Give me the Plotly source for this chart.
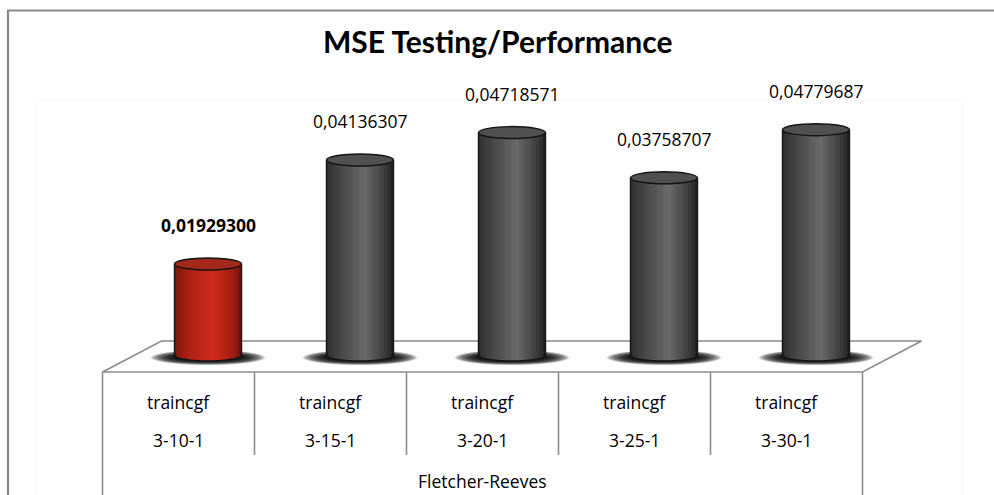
import numpy as np
import plotly.graph_objects as go

# ---------------- data ----------------
methods = ["traincgf", "traincgf", "traincgf", "traincgf", "traincgf"]
architectures = ["3-10-1", "3-15-1", "3-20-1", "3-25-1", "3-30-1"]
group_label = "Fletcher-Reeves"
mse_values = [0.01929300, 0.04136307, 0.04718571, 0.03758707, 0.04779687]
best_index = 0
title_text = "MSE Testing/Performance"

# ---------------- geometry (pixels) ----------------
W, H = 994, 495
X0PX, XSTEP = 208, 152      # pixel of first category centre, pixels per category
Y0PX, YSCALE = 355, 4714    # pixel of value 0, pixels per unit of value
DEPTH_X, DEPTH_Y = 59, 31   # 3-D floor depth offsets
FLOOR_FRONT_Y = 372
TABLE_DIV_END = 455
CYL_HALF_W = 33.5           # px
ELL_HALF_H = 6.0            # px

def xd(px):
    return (px - X0PX) / XSTEP

def yd(py):
    return (Y0PX - py) / YSCALE

def pxp(px):  # paper x
    return px / W

def pyp(py):  # paper y
    return 1 - py / H

hw = CYL_HALF_W / XSTEP
eb = ELL_HALF_H / YSCALE
n = len(mse_values)
cats = list(range(n))

font_main = "Open Sans, Lato, sans-serif"

# colour profiles across the cylinder (t from -1 left to +1 right)
tstops = [-1.0, -0.6, 0.15, 0.7, 1.0]
gray_stops = [(46, 46, 46), (70, 70, 70), (106, 106, 106), (64, 64, 64), (34, 34, 34)]
red_stops = [(125, 22, 12), (172, 32, 20), (208, 44, 30), (165, 30, 18), (108, 18, 10)]

def shade(stops, t):
    r = np.interp(t, tstops, [s[0] for s in stops])
    g = np.interp(t, tstops, [s[1] for s in stops])
    b = np.interp(t, tstops, [s[2] for s in stops])
    return f"rgb({int(r)},{int(g)},{int(b)})"

fig = go.Figure()
shapes = []

# faint plot-area box
shapes.append(dict(type="rect", xref="paper", yref="paper",
                   x0=pxp(36), x1=pxp(962), y0=pyp(600), y1=pyp(100),
                   line=dict(color="#f7f7f7", width=1), fillcolor="rgba(0,0,0,0)", layer="below"))

# floor parallelogram
fl = FLOOR_FRONT_Y
left_front = X0PX - XSTEP / 2 - DEPTH_X / 2
right_front = left_front + XSTEP * n
floor_path = (f"M {pxp(left_front)},{pyp(fl)} L {pxp(left_front + DEPTH_X)},{pyp(fl - DEPTH_Y)} "
              f"L {pxp(right_front + DEPTH_X)},{pyp(fl - DEPTH_Y)} L {pxp(right_front)},{pyp(fl)} Z")
shapes.append(dict(type="path", xref="paper", yref="paper", path=floor_path,
                   line=dict(color="#8c8c8c", width=1.6), fillcolor="white", layer="below"))

# table lines
shapes.append(dict(type="line", xref="paper", yref="paper", x0=pxp(left_front), x1=pxp(left_front),
                   y0=pyp(fl), y1=pyp(H + 20), line=dict(color="#8c8c8c", width=1.6), layer="below"))
shapes.append(dict(type="line", xref="paper", yref="paper", x0=pxp(right_front), x1=pxp(right_front),
                   y0=pyp(fl), y1=pyp(H + 20), line=dict(color="#8c8c8c", width=1.6), layer="below"))
for k in range(1, n):
    xb = left_front + XSTEP * k
    shapes.append(dict(type="line", xref="paper", yref="paper", x0=pxp(xb), x1=pxp(xb),
                       y0=pyp(fl), y1=pyp(TABLE_DIV_END), line=dict(color="#8c8c8c", width=1.6), layer="below"))

# soft shadows under cylinders
for i in cats:
    cx = X0PX + XSTEP * i
    layers = 10
    for k in range(layers):
        f = k / (layers - 1)
        rw_l = 57 - 22 * f     # extent to the left
        rw_r = 57 - 22 * f     # extent to the right
        rh = 7.5 - 3.5 * f
        cy = Y0PX + 2.5
        shapes.append(dict(type="circle", xref="paper", yref="paper",
                           x0=pxp(cx - rw_l), x1=pxp(cx + rw_r),
                           y0=pyp(cy + rh), y1=pyp(cy - rh),
                           fillcolor="black", opacity=0.2, line=dict(width=0), layer="below"))

# cylinder bodies as vertical strips (bars)
N = 36
step = 2.0 / N
for s in range(N):
    tl = -1 + s * step
    tm = tl + step / 2
    base_off = -eb * np.sqrt(max(0.0, 1 - tm * tm))
    colors = [shade(red_stops if i == best_index else gray_stops, tm) for i in cats]
    width = step * hw * (1.25 if s < N - 1 else 1.0)
    fig.add_trace(go.Bar(
        x=cats, y=[v - base_off for v in mse_values], base=[base_off] * n,
        offset=tl * hw, width=width,
        marker=dict(color=colors, line=dict(width=0)),
        hoverinfo="skip", showlegend=False))

# outlines and top ellipses
for i, v in zip(cats, mse_values):
    ts = np.linspace(-1, 1, 41)
    pts = [(i - hw, v)] + [(i + t * hw, -eb * np.sqrt(1 - t * t)) for t in ts] + [(i + hw, v)]
    path = "M " + " L ".join(f"{a},{b}" for a, b in pts)
    shapes.append(dict(type="path", xref="x", yref="y", path=path,
                       line=dict(color="#141414", width=1.4), fillcolor="rgba(0,0,0,0)"))
    top_col = "#a3281a" if i == best_index else "#505050"
    shapes.append(dict(type="circle", xref="x", yref="y",
                       x0=i - hw, x1=i + hw, y0=v - eb, y1=v + eb,
                       fillcolor=top_col, line=dict(color="#141414", width=1.4)))

# frame
shapes.append(dict(type="rect", xref="paper", yref="paper",
                   x0=pxp(8), x1=pxp(W + 10), y0=pyp(H + 10), y1=pyp(10.5),
                   line=dict(color="#8a8a8a", width=2.2), fillcolor="rgba(0,0,0,0)"))

annotations = []
# value labels
for i, v in zip(cats, mse_values):
    txt = f"{v:.8f}".replace(".", ",")
    if i == best_index:
        txt = f"<b>{txt}</b>"
    annotations.append(dict(x=i, y=v, xref="x", yref="y", text=txt, showarrow=False,
                            yanchor="middle", yshift=39,
                            font=dict(family=font_main, size=17.5, color="#000000")))

# table labels
for i in cats:
    xc = i - (DEPTH_X / 2) / XSTEP
    annotations.append(dict(x=xc, y=yd(402), xref="x", yref="y", text=methods[i], showarrow=False,
                            yanchor="middle", font=dict(family=font_main, size=17.5, color="#000000")))
    annotations.append(dict(x=xc, y=yd(440), xref="x", yref="y", text=architectures[i], showarrow=False,
                            yanchor="middle", font=dict(family=font_main, size=17.5, color="#000000")))
annotations.append(dict(x=(n - 1) / 2 - (DEPTH_X / 2) / XSTEP, y=yd(481), xref="x", yref="y",
                        text=group_label, showarrow=False, yanchor="middle",
                        font=dict(family=font_main, size=17.5, color="#000000")))

# title
annotations.append(dict(x=0.5, y=pyp(41), xref="paper", yref="paper", text=f"<b>{title_text}</b>",
                        showarrow=False, yanchor="middle",
                        font=dict(family="Lato, Open Sans, sans-serif", size=30, color="#000000")))

fig.update_layout(
    width=W, height=H, margin=dict(l=0, r=0, t=0, b=0),
    paper_bgcolor="white", plot_bgcolor="rgba(0,0,0,0)",
    barmode="overlay", bargap=0,
    xaxis=dict(visible=False, range=[xd(0), xd(W)], domain=[0, 1], fixedrange=True),
    yaxis=dict(visible=False, range=[yd(H), yd(0)], domain=[0, 1], fixedrange=True),
    shapes=shapes, annotations=annotations, showlegend=False,
)

fig.write_html("out.html", config={"displayModeBar": False},
               post_script="document.body.style.margin='0';document.body.style.overflow='hidden';")
